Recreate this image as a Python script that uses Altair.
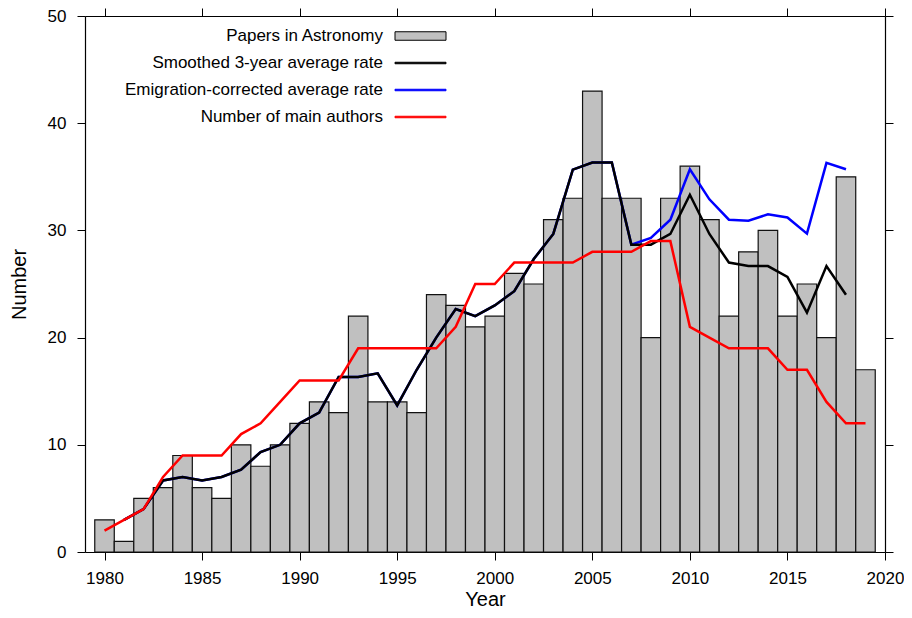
import altair as alt
import pandas as pd

# ---- data ----
years = list(range(1980, 2020))
papers = [3, 1, 5, 6, 9, 6, 5, 10, 8, 10, 12, 14, 13, 22, 14, 14, 13, 24, 23, 21,
          22, 26, 25, 31, 33, 43, 33, 33, 20, 33, 36, 31, 22, 28, 30, 22, 25, 20, 35, 17]

smooth_years = list(range(1981, 2019))
smoothed = [3.0, 4.0, 6.67, 7.0, 6.67, 7.0, 7.67, 9.33, 10.0, 12.0, 13.0, 16.33, 16.33,
            16.67, 13.67, 17.0, 20.0, 22.67, 22.0, 23.0, 24.33, 27.33, 29.67, 35.67,
            36.33, 36.33, 28.67, 28.67, 29.67, 33.33, 29.67, 27.0, 26.67, 26.67, 25.67,
            22.33, 26.67, 24.0]
emigration = [3.0, 4.0, 6.67, 7.0, 6.67, 7.0, 7.67, 9.33, 10.0, 12.0, 13.0, 16.33, 16.33,
              16.67, 13.67, 17.0, 20.0, 22.67, 22.0, 23.0, 24.33, 27.33, 29.67, 35.67,
              36.33, 36.33, 28.67, 29.3, 31.0, 35.7, 32.9, 31.0, 30.9, 31.5, 31.2,
              29.7, 36.3, 35.7]

authors = [2, 3, 4, 7, 9, 9, 9, 11, 12, 14, 16, 16, 16, 19, 19, 19, 19, 19, 21, 25,
           25, 27, 27, 27, 27, 28, 28, 28, 29, 29, 21, 20, 19, 19, 19, 17, 17, 14, 12, 12]

series_names = ["Papers in Astronomy", "Smoothed 3-year average rate",
                "Emigration-corrected average rate", "Number of main authors"]
series_fill = ["#c0c0c0", "#000000", "#0000ff", "#ff0000"]
series_stroke = ["#000000", "#000000", "#0000ff", "#ff0000"]
series_shape = ["M-5.1,-0.85L5.1,-0.85L5.1,0.85L-5.1,0.85Z",
                "M-5.1,-0.15L5.1,-0.15L5.1,0.15L-5.1,0.15Z",
                "M-5.1,-0.15L5.1,-0.15L5.1,0.15L-5.1,0.15Z",
                "M-5.1,-0.15L5.1,-0.15L5.1,0.15L-5.1,0.15Z"]

x_ticks = [1980, 1985, 1990, 1995, 2000, 2005, 2010, 2015, 2020]
y_ticks = [0, 10, 20, 30, 40, 50]

FONT = "Liberation Sans"

bars_df = pd.DataFrame({"year": years, "papers": papers})
smooth_df = pd.DataFrame({"year": smooth_years, "value": smoothed})
emig_df = pd.DataFrame({"year": smooth_years, "value": emigration})
auth_df = pd.DataFrame({"year": years, "value": authors})
legend_df = pd.DataFrame({"series": series_names})

xscale = alt.Scale(domain=[1979, 2020], nice=False, zero=False, padding=0)
yscale = alt.Scale(domain=[0, 50], nice=False, padding=0)

axis_common = dict(tickSize=8, tickColor="black", domainColor="black",
                   domainWidth=1.2, tickWidth=1, grid=False)

x_bottom = alt.Axis(orient="bottom", values=x_ticks, format="d", title="Year",
                    labelFontSize=17, labelFont=FONT, labelColor="black",
                    labelPadding=10, titleFontSize=20, titleFont=FONT,
                    titleFontWeight="normal", titlePadding=3, titleColor="black",
                    labelFlush=False, labelOverlap=False, **axis_common)
y_left = alt.Axis(orient="left", values=y_ticks, title="Number",
                  labelFontSize=17, labelFont=FONT, labelColor="black",
                  labelPadding=11, titleFontSize=20, titleFont=FONT,
                  titleFontWeight="normal", titlePadding=18, titleColor="black",
                  labelFlush=False, **axis_common)
x_top = alt.Axis(orient="top", values=x_ticks, labels=False, title=None, **axis_common)
y_right = alt.Axis(orient="right", values=y_ticks, labels=False, title=None, **axis_common)

bars = alt.Chart(bars_df).transform_calculate(
    x0="datum.year - 0.5", x1="datum.year + 0.5", base="0"
).mark_bar(fill="#c0c0c0", stroke="#111111", strokeWidth=1.2, orient="vertical").encode(
    x=alt.X("x0:Q", scale=xscale, axis=x_bottom),
    x2="x1:Q",
    y=alt.Y("papers:Q", scale=yscale, axis=y_left),
    y2="base:Q",
)

line_blue = alt.Chart(emig_df).mark_line(color="#0000ff", strokeWidth=2.5).encode(
    x=alt.X("year:Q", scale=xscale, axis=None),
    y=alt.Y("value:Q", scale=yscale, axis=None),
)

line_black = alt.Chart(smooth_df).mark_line(color="#000000", strokeWidth=2.5).encode(
    x=alt.X("year:Q", scale=xscale, axis=None),
    y=alt.Y("value:Q", scale=yscale, axis=None),
)

line_red = alt.Chart(auth_df).mark_line(color="#ff0000", strokeWidth=2.5).encode(
    x=alt.X("year:Q", scale=xscale, axis=x_top),
    y=alt.Y("value:Q", scale=yscale, axis=y_right),
)

leg = alt.Legend(title=None, orient="none", legendX=327, legendY=11.5,
                 labelAlign="right", labelOffset={"expr": "-46"}, symbolSize=100,
                 symbolStrokeWidth=1, rowPadding=9,
                 labelFontSize=17, labelFont=FONT, labelColor="black",
                 padding=0, symbolOffset=0, labelLimit=400)

legend_layer = alt.Chart(legend_df).transform_filter("false").mark_point(
    filled=True, opacity=1
).encode(
    fill=alt.Fill("series:N", scale=alt.Scale(domain=series_names, range=series_fill), legend=leg, sort=series_names),
    stroke=alt.Stroke("series:N", scale=alt.Scale(domain=series_names, range=series_stroke), legend=leg, sort=series_names),
    shape=alt.Shape("series:N", scale=alt.Scale(domain=series_names, range=series_shape), legend=leg, sort=series_names),
)

chart = alt.layer(bars, line_blue, line_black, line_red, legend_layer).resolve_axis(
    x="independent", y="independent"
).properties(
    width=800, height=536,
    autosize=alt.AutoSizeParams(type="none"),
    padding={"left": 77, "top": 8, "right": 19, "bottom": 58},
).configure_view(stroke=None).configure(font=FONT)

chart.save("out.html", embed_options={"renderer": "svg", "actions": False})
